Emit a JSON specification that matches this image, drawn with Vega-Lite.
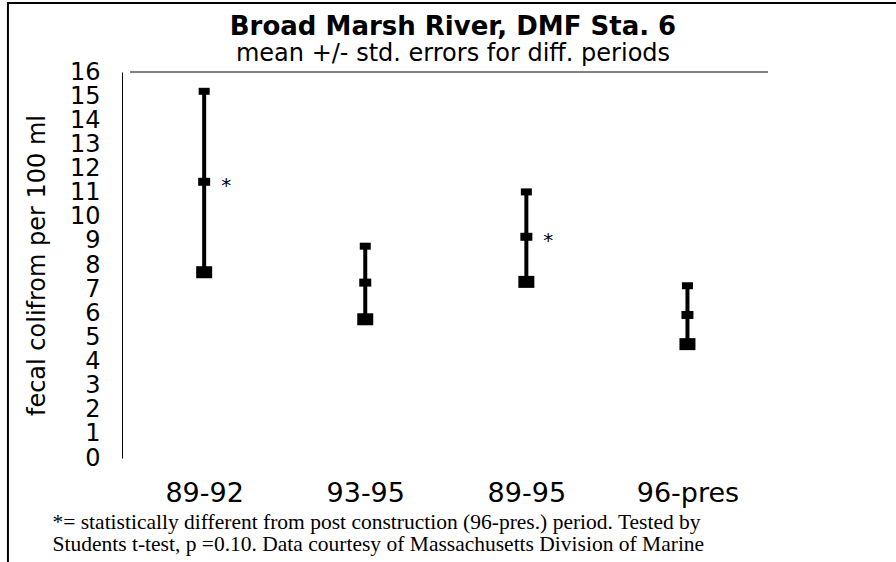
{
  "$schema": "https://vega.github.io/schema/vega-lite/v6.json",
  "width": 646,
  "height": 386,
  "autosize": {"type": "none"},
  "padding": {"left": 122, "top": 72, "right": 128, "bottom": 104},
  "background": "white",
  "config": {
    "view": {"stroke": null},
    "font": "DejaVu Sans",
    "axisY": {"labelOverlap": false, "tickCount": 20}
  },
  "title": {
    "text": "Broad Marsh River, DMF Sta. 6",
    "subtitle": "mean +/- std. errors for diff. periods",
    "font": "DejaVu Sans",
    "fontSize": 26,
    "fontWeight": "bold",
    "color": "black",
    "subtitleFont": "DejaVu Sans",
    "subtitleFontSize": 24,
    "subtitleColor": "black",
    "anchor": "middle",
    "frame": "group",
    "dx": 8,
    "offset": -65,
    "subtitlePadding": 2
  },
  "data": {
    "values": [
      {"period": "89-92", "pos": 1, "lo": 7.7, "mean": 11.45, "hi": 15.2, "sig": "*"},
      {"period": "93-95", "pos": 2, "lo": 5.75, "mean": 7.27, "hi": 8.78, "sig": ""},
      {"period": "89-95", "pos": 3, "lo": 7.3, "mean": 9.17, "hi": 11.03, "sig": "*"},
      {"period": "96-pres", "pos": 4, "lo": 4.72, "mean": 5.93, "hi": 7.14, "sig": ""}
    ]
  },
  "layer": [
    {
      "mark": {"type": "rule", "strokeWidth": 4, "color": "black"},
      "encoding": {
        "x": {
          "field": "pos",
          "type": "quantitative",
          "scale": {"domain": [0.49, 4.5], "zero": false, "nice": false},
          "axis": {
            "values": [1, 2, 3, 4],
            "labelExpr": "['','89-92','93-95','89-95','96-pres'][datum.value]",
            "domain": false,
            "ticks": false,
            "tickSize": 0,
            "grid": false,
            "labelFont": "DejaVu Sans",
            "labelFontSize": 27,
            "labelColor": "black",
            "labelPadding": 22,
            "labelBaseline": "top",
            "labelOverlap": false,
            "title": [
              "*= statistically different from post construction (96-pres.) period.  Tested by",
              "Students t-test, p =0.10.  Data courtesy of Massachusetts Division of Marine"
            ],
            "titleFont": "Liberation Serif",
            "titleFontSize": 21.5,
            "titleFontWeight": "normal",
            "titleColor": "black",
            "titleAnchor": "start",
            "titleAlign": "left",
            "titleBaseline": "top",
            "titleLineHeight": 22,
            "titleX": -70,
            "titleY": 53
          }
        },
        "y": {
          "field": "lo",
          "type": "quantitative",
          "scale": {"domain": [0, 16], "zero": false, "nice": false},
          "axis": {
            "values": [0, 1, 2, 3, 4, 5, 6, 7, 8, 9, 10, 11, 12, 13, 14, 15, 16],
            "tickCount": 20,
            "domain": true,
            "domainColor": "black",
            "domainWidth": 1,
            "ticks": false,
            "tickSize": 0,
            "grid": false,
            "labelFont": "DejaVu Sans",
            "labelFontSize": 24,
            "labelColor": "black",
            "labelPadding": 22,
            "labelOverlap": false,
            "labelBaseline": "middle",
            "title": "fecal colifrom per 100 ml",
            "titleFont": "DejaVu Sans",
            "titleFontSize": 24,
            "titleFontWeight": "normal",
            "titleColor": "black",
            "titlePadding": 20
          }
        },
        "y2": {"field": "hi"}
      }
    },
    {
      "mark": {"type": "tick", "orient": "horizontal", "size": 11, "thickness": 7, "color": "black", "opacity": 1},
      "encoding": {
        "x": {"field": "pos", "type": "quantitative"},
        "y": {"field": "hi", "type": "quantitative"}
      }
    },
    {
      "mark": {"type": "tick", "orient": "horizontal", "size": 12, "thickness": 8, "color": "black", "opacity": 1},
      "encoding": {
        "x": {"field": "pos", "type": "quantitative"},
        "y": {"field": "mean", "type": "quantitative"}
      }
    },
    {
      "mark": {"type": "tick", "orient": "horizontal", "size": 16, "thickness": 12, "color": "black", "opacity": 1},
      "encoding": {
        "x": {"field": "pos", "type": "quantitative"},
        "y": {"field": "lo", "type": "quantitative"}
      }
    },
    {
      "mark": {"type": "text", "dx": 22, "dy": 4, "fontSize": 20, "font": "DejaVu Sans", "baseline": "middle", "align": "center", "color": "black"},
      "encoding": {
        "x": {"field": "pos", "type": "quantitative"},
        "y": {"field": "mean", "type": "quantitative"},
        "text": {"field": "sig"}
      }
    },
    {
      "data": {"values": [{}]},
      "mark": {"type": "rule", "strokeWidth": 1, "color": "black"},
      "encoding": {
        "x": {"datum": 0.54, "type": "quantitative"},
        "x2": {"datum": 4.5},
        "y": {"datum": 16, "type": "quantitative"}
      }
    },
    {
      "data": {"values": [{}]},
      "mark": {"type": "rule", "strokeWidth": 2, "color": "black"},
      "encoding": {
        "x": {"datum": -0.218, "type": "quantitative"},
        "x2": {"datum": 5.4},
        "y": {"datum": 18.86, "type": "quantitative"}
      }
    },
    {
      "data": {"values": [{}]},
      "mark": {"type": "rule", "strokeWidth": 2, "color": "black"},
      "encoding": {
        "x": {"datum": -0.218, "type": "quantitative"},
        "y": {"datum": 18.9, "type": "quantitative"},
        "y2": {"datum": -4.5}
      }
    }
  ]
}
